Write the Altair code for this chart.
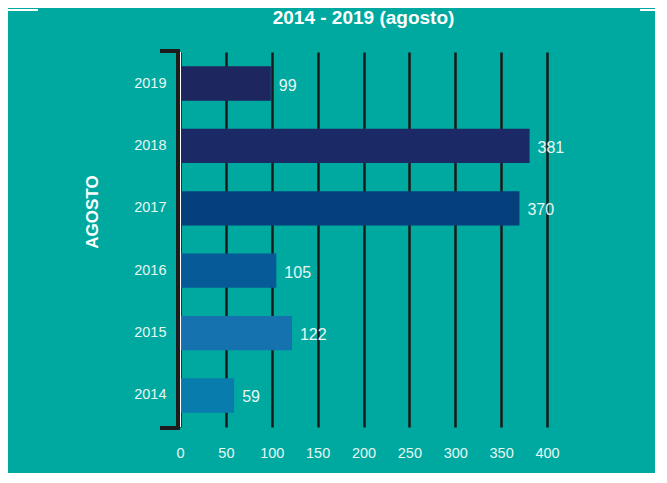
import altair as alt
import pandas as pd

years = ["2019", "2018", "2017", "2016", "2015", "2014"]
values = [99, 381, 370, 105, 122, 59]
colors = ["#1E2660", "#1B2A66", "#053F7C", "#075A98", "#1572AE", "#087CAD"]
x_ticks = [0, 50, 100, 150, 200, 250, 300, 350, 400]

df = pd.DataFrame({"year": years, "value": values, "color": colors})

BG = "#00A9A0"
LIGHT = "#E6F7F4"
W, H = 367, 375

y_enc = alt.Y("year:N", sort=years, title=None,
              scale=alt.Scale(paddingInner=0.45, paddingOuter=0.23),
              axis=alt.Axis(labelColor=LIGHT, labelFontSize=14.5, labelFont="Liberation Sans",
                            labelPadding=14, ticks=False, domain=False, grid=False))
x_enc = alt.X("value:Q", title=None,
              scale=alt.Scale(domain=[0, 400], nice=False),
              axis=alt.Axis(values=x_ticks, labelColor=LIGHT, labelFontSize=14.5,
                            labelFont="Liberation Sans", labelPadding=19, ticks=False,
                            labelFlush=False, domain=False, grid=True, gridColor="#1A1A1A",
                            gridWidth=2.5, gridOpacity=1))

bars = alt.Chart(df).mark_bar().encode(
    x=x_enc, y=y_enc, color=alt.Color("color:N", scale=None, legend=None)
)

labels = alt.Chart(df).mark_text(align="left", baseline="middle", dx=8, dy=2,
                                 fontSize=16, color=LIGHT, font="Liberation Sans").encode(
    x="value:Q", y=alt.Y("year:N", sort=years), text="value:Q"
)

# left bracket axis (decorative)
axis_dark = "#1C1C1C"
vline = alt.Chart(df).mark_rule(color=axis_dark, strokeWidth=4).encode(
    x=alt.value(-2), y=alt.value(-3), y2=alt.value(H + 3))
vwhite = alt.Chart(df).mark_rule(color="#FFFFFF", strokeWidth=1).encode(
    x=alt.value(0.5), y=alt.value(0), y2=alt.value(H))
cap_top = alt.Chart(df).mark_rule(color=axis_dark, strokeWidth=4).encode(
    x=alt.value(-20), x2=alt.value(0), y=alt.value(-1))
cap_bot = alt.Chart(df).mark_rule(color=axis_dark, strokeWidth=4).encode(
    x=alt.value(-20), x2=alt.value(0), y=alt.value(H + 1))

# white frame (decorative)
fw = "#FFFFFF"
f1 = alt.Chart(df).mark_rule(color=fw, strokeWidth=2).encode(
    x=alt.value(-174), x2=alt.value(-142), y=alt.value(-42))
f2 = alt.Chart(df).mark_rule(color=fw, strokeWidth=2).encode(
    x=alt.value(-174), y=alt.value(-42), y2=alt.value(H + 70))
f3 = alt.Chart(df).mark_rule(color=fw, strokeWidth=2).encode(
    x=alt.value(460), x2=alt.value(500), y=alt.value(-42))

agosto = alt.Chart(pd.DataFrame({"t": ["AGOSTO"]})).mark_text(
    angle=270, fontSize=17, fontWeight="bold", color="#FFFFFF",
    font="Liberation Sans Narrow, Liberation Sans", align="center", baseline="middle").encode(
    x=alt.value(-87), y=alt.value(160), text="t:N")

chart = alt.layer(bars, labels, vwhite, vline, cap_top, cap_bot, f1, f2, f3, agosto).properties(
    width=W, height=H,
    background=BG,
    padding={"left": 172, "top": 44, "right": 108, "bottom": 46},
    autosize=alt.AutoSizeParams(type="none"),
    title=alt.TitleParams("2014 - 2019 (agosto)", color="#FFFFFF", fontSize=19,
                          fontWeight="bold", font="Liberation Sans Narrow, Liberation Sans",
                          anchor="middle", offset=0, dy=19),
).configure_view(stroke=None)

chart.save("out.html", embed_options={"renderer": "svg", "actions": False})
